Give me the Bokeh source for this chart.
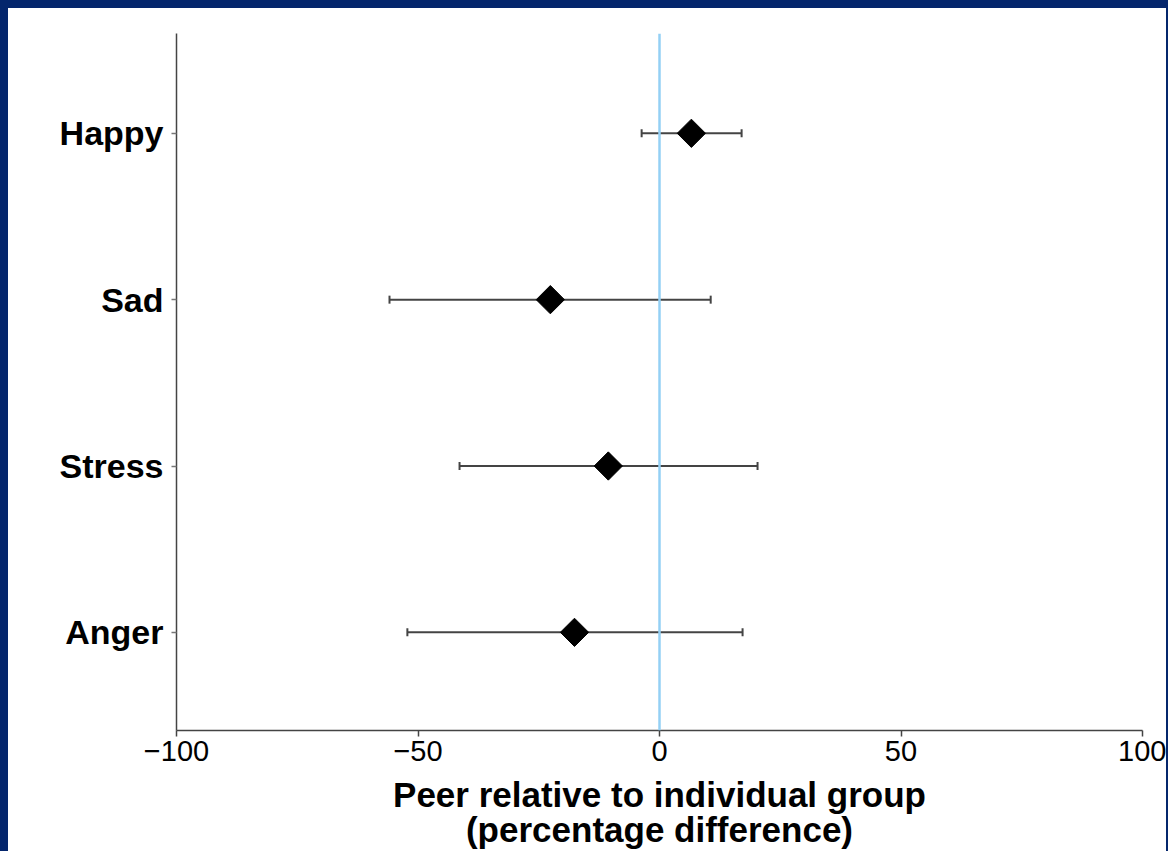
import numpy as np
from bokeh.plotting import figure
from bokeh.models import ColumnDataSource, Span, Whisker, TeeHead, FixedTicker
from bokeh.embed import file_html
from bokeh.resources import INLINE

# ---- data ----
categories = ["Happy", "Sad", "Stress", "Anger"]
estimate = [6.6, -22.6, -10.6, -17.6]
ci_lower = [-3.7, -55.9, -41.4, -52.2]
ci_upper = [17.0, 10.6, 20.3, 17.2]
x_ticks = [-100, -50, 0, 50, 100]
x_tick_labels = ["\u2212100", "\u221250", "0", "50", "100"]
x_title = "Peer relative to individual group\n(percentage difference)"

ypos = [len(categories) - i for i in range(len(categories))]

src = ColumnDataSource(dict(cat=categories, y=ypos, est=estimate,
                            lo=ci_lower, hi=ci_upper))

FONT = "Liberation Sans"

p = figure(width=1158, height=843, x_range=(-100, 100), y_range=(0.41, 4.6),
           output_backend="svg", toolbar_location=None,
           min_border_left=168, min_border_right=24,
           min_border_top=25, min_border_bottom=120)

p.background_fill_color = "white"
p.border_fill_color = "white"
p.outline_line_color = None
p.xgrid.visible = False
p.ygrid.visible = False

# zero reference line
p.add_layout(Span(location=0, dimension="height", line_color="#94d0f5",
                  line_width=2.5))

# confidence intervals
EB = "#444444"
wh = Whisker(source=src, base="y", lower="lo", upper="hi", dimension="width",
             line_color=EB, line_width=2,
             lower_head=TeeHead(size=8, line_color=EB, line_width=2),
             upper_head=TeeHead(size=8, line_color=EB, line_width=2))
p.add_layout(wh)

# point estimates (diamonds)
p.scatter(x="est", y="y", source=src, marker="square", angle=np.pi / 4,
          size=20, fill_color="black", line_color="black")

# x axis
p.xaxis.ticker = FixedTicker(ticks=x_ticks)
p.xaxis.major_label_overrides = {t: l for t, l in zip(x_ticks, x_tick_labels)}
p.xaxis.minor_tick_line_color = None
p.xaxis.major_tick_out = 6
p.xaxis.major_tick_in = 0
p.xaxis.axis_line_color = "#444444"
p.xaxis.axis_line_width = 1.5
p.xaxis.major_tick_line_color = "#444444"
p.xaxis.major_tick_line_width = 1.5
p.xaxis.major_label_text_font = FONT
p.xaxis.major_label_text_font_size = "29px"
p.xaxis.major_label_text_color = "black"
p.xaxis.major_label_standoff = 4
p.xaxis.axis_label = x_title
p.xaxis.axis_label_text_font = FONT
p.xaxis.axis_label_text_font_size = "35px"
p.xaxis.axis_label_text_font_style = "bold"
p.xaxis.axis_label_text_color = "black"
p.xaxis.axis_label_text_line_height = 0.9
p.xaxis.axis_label_standoff = 11

# y axis
p.yaxis.ticker = FixedTicker(ticks=ypos)
p.yaxis.major_label_overrides = {y: c for y, c in zip(ypos, categories)}
p.yaxis.minor_tick_line_color = None
p.yaxis.major_tick_out = 5
p.yaxis.major_tick_in = 0
p.yaxis.axis_line_color = "#444444"
p.yaxis.axis_line_width = 1.5
p.yaxis.major_tick_line_color = "#777777"
p.yaxis.major_tick_line_width = 1.5
p.yaxis.major_label_text_font = FONT
p.yaxis.major_label_text_font_size = "34px"
p.yaxis.major_label_text_font_style = "bold"
p.yaxis.major_label_text_color = "black"
p.yaxis.major_label_standoff = 8

html = file_html(p, INLINE)
css = ("<style>html{background:#04266c;overflow:hidden;}"
       "body{margin:8px 2px 0 8px !important;background:#ffffff;"
       "overflow:hidden;}</style></head>")
html = html.replace("</head>", css, 1)
open("out.html", "w").write(html)
